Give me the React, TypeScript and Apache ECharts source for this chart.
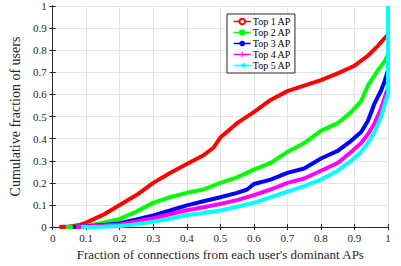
import React, { useEffect, useRef } from "react";
import * as echarts from "echarts";

const xTop1 = [0.02, 0.05, 0.08, 0.1, 0.15, 0.2, 0.25, 0.3, 0.35, 0.4, 0.45, 0.48, 0.5, 0.55, 0.6, 0.65, 0.7, 0.75, 0.8, 0.85, 0.9, 0.94, 0.97, 0.99, 1, 1];
const yTop1 = [0, 0.003, 0.01, 0.02, 0.055, 0.1, 0.145, 0.2, 0.245, 0.285, 0.325, 0.36, 0.405, 0.47, 0.52, 0.575, 0.615, 0.64, 0.665, 0.695, 0.73, 0.775, 0.82, 0.855, 0.87, 1];

const xTop2 = [0.04, 0.1, 0.15, 0.2, 0.25, 0.3, 0.35, 0.4, 0.45, 0.5, 0.55, 0.6, 0.65, 0.7, 0.75, 0.8, 0.85, 0.89, 0.92, 0.94, 0.97, 0.99, 1, 1];
const yTop2 = [0, 0.005, 0.02, 0.037, 0.07, 0.11, 0.135, 0.155, 0.17, 0.2, 0.225, 0.26, 0.29, 0.34, 0.38, 0.435, 0.47, 0.52, 0.57, 0.64, 0.71, 0.75, 0.78, 1];

const xTop3 = [0.06, 0.1, 0.15, 0.2, 0.25, 0.3, 0.35, 0.4, 0.45, 0.5, 0.55, 0.58, 0.6, 0.65, 0.7, 0.75, 0.8, 0.85, 0.89, 0.92, 0.94, 0.96, 0.98, 0.99, 1, 1];
const yTop3 = [0, 0.004, 0.01, 0.018, 0.035, 0.053, 0.075, 0.098, 0.117, 0.135, 0.155, 0.17, 0.195, 0.215, 0.245, 0.265, 0.31, 0.345, 0.39, 0.43, 0.48, 0.56, 0.62, 0.66, 0.71, 1];

const xTop4 = [0.07, 0.1, 0.15, 0.2, 0.25, 0.3, 0.35, 0.4, 0.45, 0.5, 0.55, 0.6, 0.65, 0.7, 0.75, 0.8, 0.85, 0.89, 0.92, 0.94, 0.96, 0.98, 1, 1];
const yTop4 = [0, 0.003, 0.007, 0.012, 0.025, 0.04, 0.058, 0.076, 0.09, 0.105, 0.122, 0.145, 0.17, 0.2, 0.22, 0.255, 0.29, 0.34, 0.38, 0.42, 0.47, 0.54, 0.63, 1];

const xTop5 = [0.085, 0.15, 0.2, 0.25, 0.3, 0.35, 0.4, 0.45, 0.5, 0.55, 0.6, 0.65, 0.7, 0.75, 0.8, 0.85, 0.89, 0.92, 0.94, 0.96, 0.98, 0.995, 1, 1];
const yTop5 = [0, 0.002, 0.005, 0.013, 0.024, 0.038, 0.054, 0.064, 0.075, 0.092, 0.11, 0.135, 0.16, 0.185, 0.215, 0.255, 0.3, 0.34, 0.38, 0.43, 0.5, 0.58, 0.6, 1];

const seriesNames = ["Top 1 AP", "Top 2 AP", "Top 3 AP", "Top 4 AP", "Top 5 AP"];
const seriesColors = ["#ff0000", "#00ff00", "#0000ff", "#ff00ff", "#00ffff"];
const seriesSymbols = [
  "emptyCircle",
  "rect",
  "circle",
  "path://M4,0H6V4H10V6H6V10H4V6H0V4H4Z",
  "path://M0,5L10,0L10,10Z",
];
const xs = [xTop1, xTop2, xTop3, xTop4, xTop5];
const ys = [yTop1, yTop2, yTop3, yTop4, yTop5];

const xAxisTitle = "Fraction of connections from each user's dominant APs";
const yAxisTitle = "Cumulative fraction of users";

const FONT = "Liberation Serif, Times New Roman, serif";
const AXIS_COLOR = "#262626";

export default function App() {
  const ref = useRef<HTMLDivElement>(null);
  useEffect(() => {
    if (!ref.current) return;
    const chart = echarts.init(ref.current, undefined, { renderer: "svg" });
    const baseAxis = {
      type: "value" as const,
      min: 0,
      max: 1,
      interval: 0.1,
      axisLine: { show: true, lineStyle: { color: AXIS_COLOR, width: 1 } },
      axisTick: { show: true, inside: true, length: 3, lineStyle: { color: AXIS_COLOR } },
      splitLine: { show: true, lineStyle: { color: "#e3e3e3", width: 1 } },
    };
    chart.setOption({
      animation: false,
      backgroundColor: "#ffffff",
      grid: { left: 49, right: 13, top: 6, bottom: 36 },
      xAxis: [
        {
          ...baseAxis,
          position: "bottom",
          name: xAxisTitle,
          nameLocation: "middle",
          nameGap: 16,
          nameTextStyle: { fontFamily: FONT, fontSize: 13, color: AXIS_COLOR },
          axisLabel: {
            fontFamily: FONT,
            fontSize: 11,
            color: AXIS_COLOR,
            margin: 5,
          },
        },
        {
          ...baseAxis,
          position: "top",
          axisLabel: { show: false },
          splitLine: { show: false },
        },
      ],
      yAxis: [
        {
          ...baseAxis,
          position: "left",
          name: yAxisTitle,
          nameLocation: "middle",
          nameGap: 20,
          nameTextStyle: { fontFamily: FONT, fontSize: 14, color: AXIS_COLOR },
          axisLabel: {
            fontFamily: FONT,
            fontSize: 11,
            color: AXIS_COLOR,
            margin: 6,
          },
        },
        {
          ...baseAxis,
          position: "right",
          axisLabel: { show: false },
          splitLine: { show: false },
        },
      ],
      legend: {
        orient: "vertical",
        left: 227,
        top: 14,
        padding: [2, 4, 2, 6],
        itemGap: 0,
        itemWidth: 17,
        itemHeight: 7,
        borderColor: AXIS_COLOR,
        borderWidth: 1,
        borderRadius: 0,
        backgroundColor: "#ffffff",
        lineStyle: { width: 1.5 },
        textStyle: { fontFamily: FONT, fontSize: 10, color: "#000000", lineHeight: 11, padding: [0, 0, 0, -3] },
        data: seriesNames,
      },
      series: seriesNames.map((name, i) => ({
        name,
        type: "line",
        xAxisIndex: 0,
        yAxisIndex: 0,
        data: xs[i].map((x, j) => [x, ys[i][j]]),
        symbol: seriesSymbols[i],
        symbolSize: 5,
        showSymbol: false,
        color: seriesColors[i],
        lineStyle: { width: 4, color: seriesColors[i] },
        itemStyle: { color: seriesColors[i] },
        z: 2 + i,
      })),
    });
    return () => chart.dispose();
  }, []);
  return <div ref={ref} style={{ width: 401, height: 266, position: "absolute", left: 0, top: 0 }} />;
}
